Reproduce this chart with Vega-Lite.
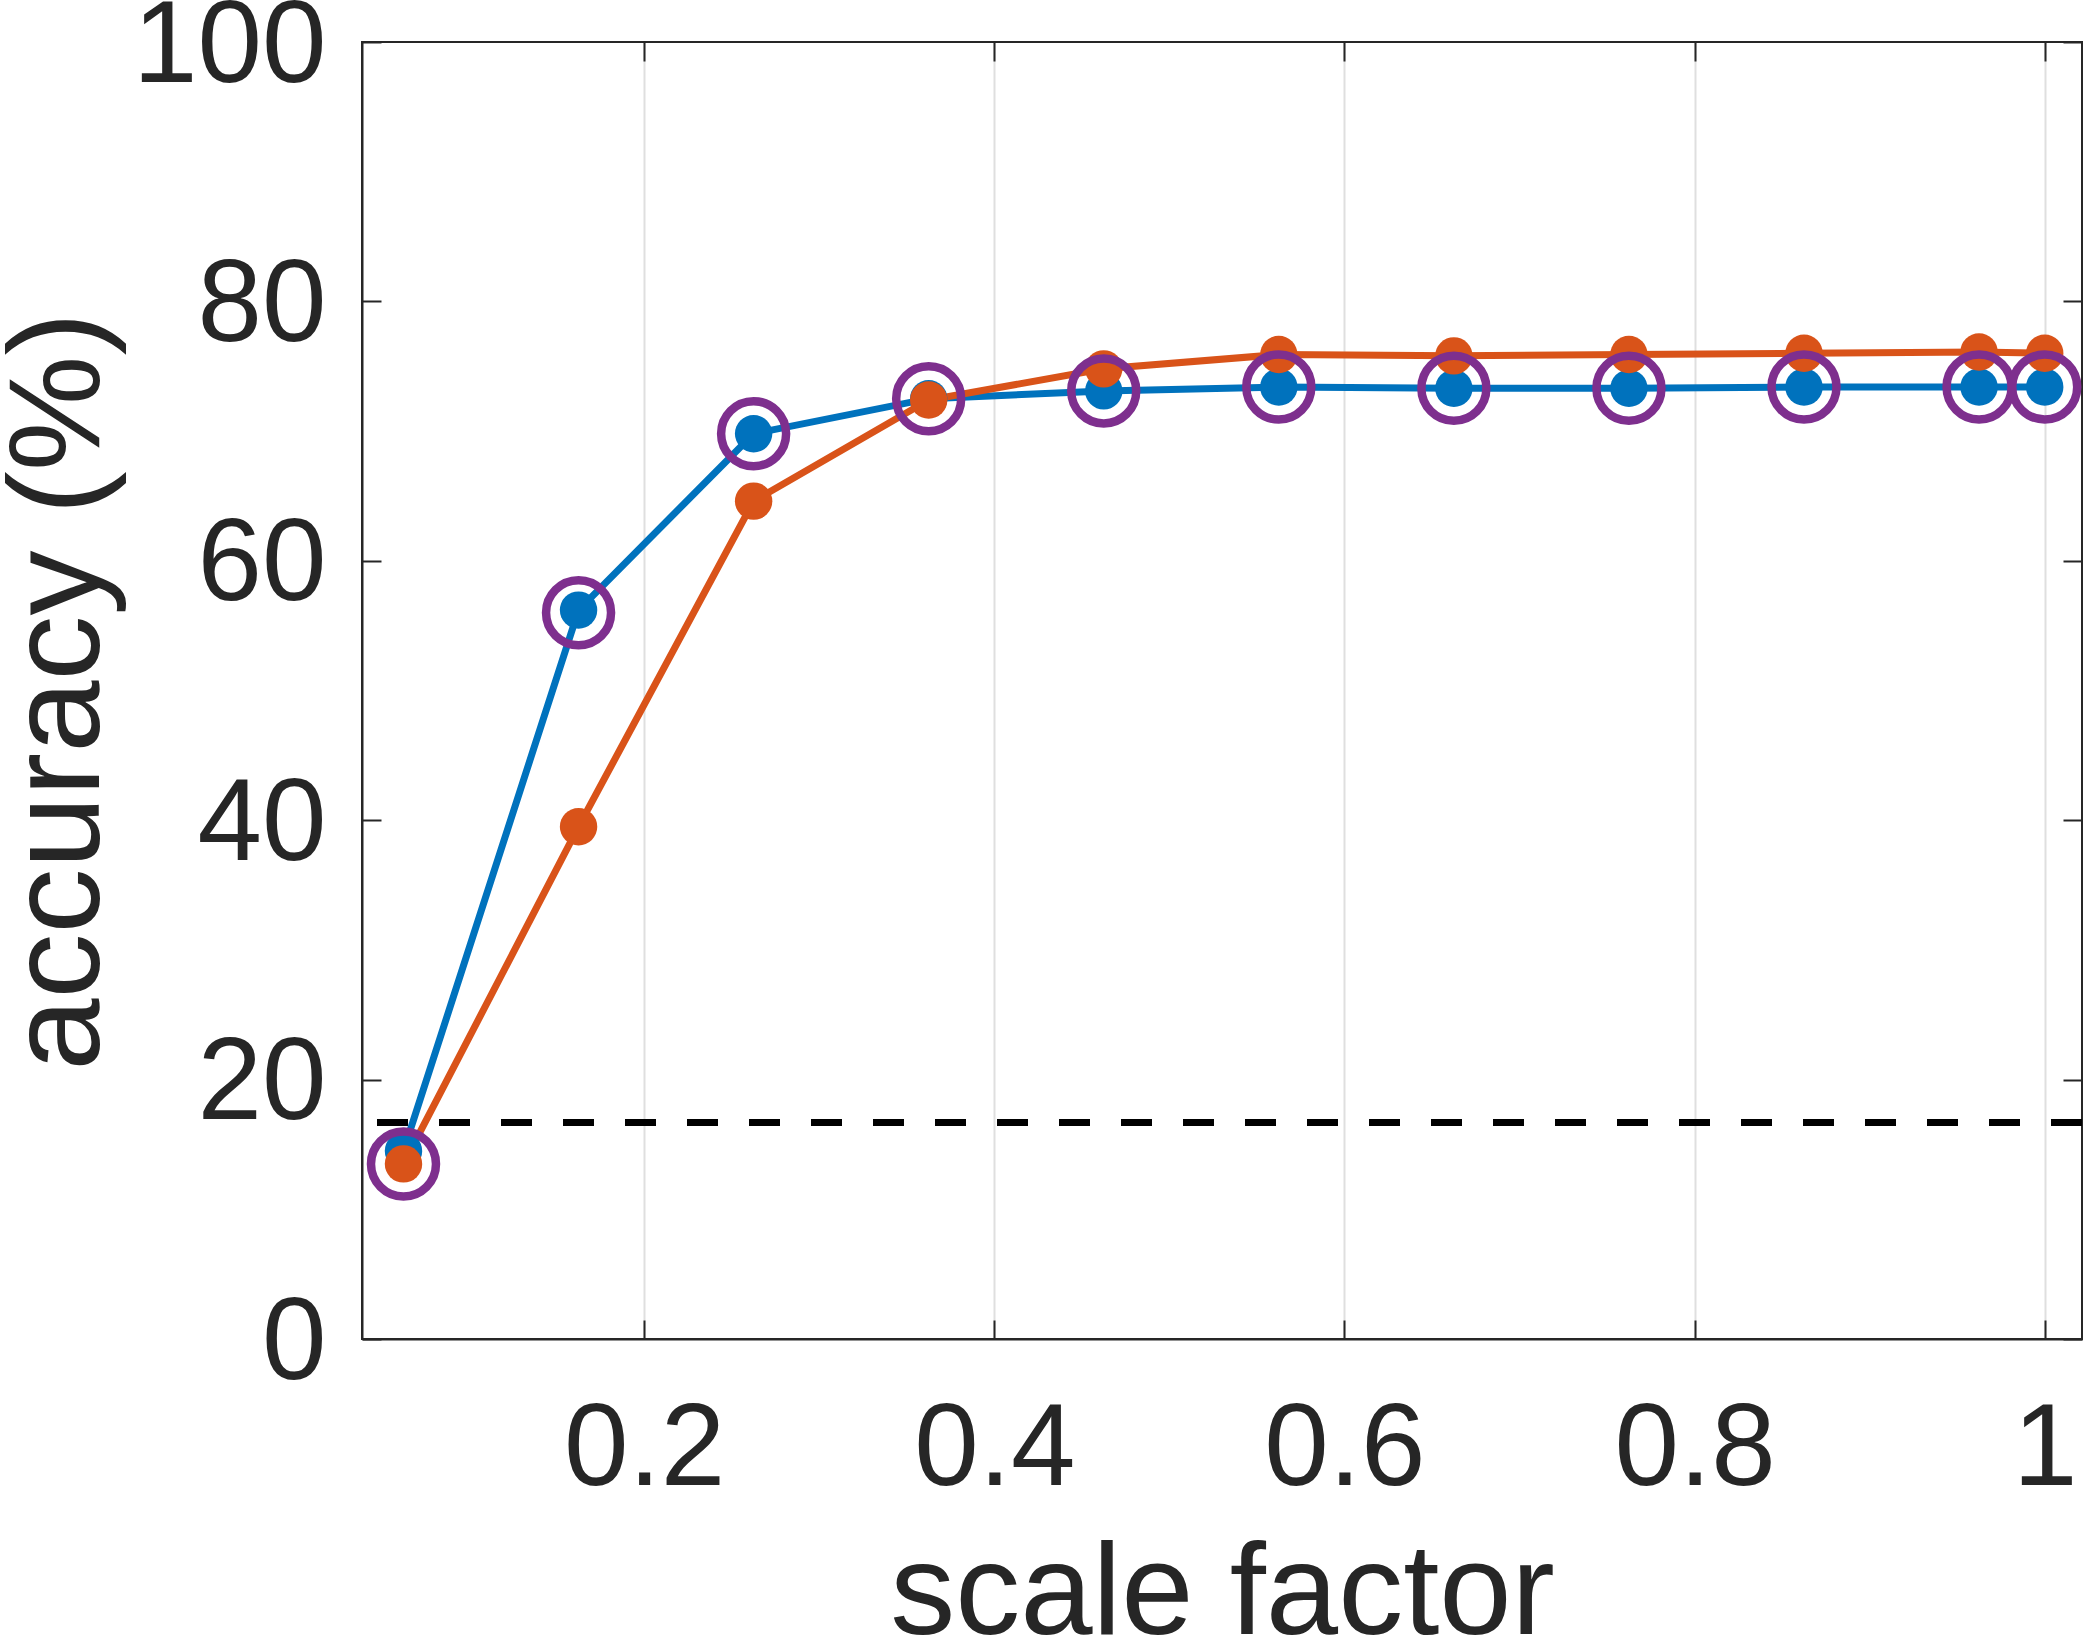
{
  "$schema": "https://vega.github.io/schema/vega-lite/v6.json",
  "width": 1720,
  "height": 1297,
  "autosize": {"type": "none"},
  "padding": {"left": 362, "top": 42, "right": 5, "bottom": 298},
  "background": "white",
  "config": {
    "view": {"stroke": "#262626", "strokeWidth": 2},
    "font": "Liberation Sans",
    "axis": {
      "labelFont": "Liberation Sans",
      "titleFont": "Liberation Sans",
      "labelColor": "#262626",
      "titleColor": "#262626",
      "titleFontWeight": "normal",
      "labelLimit": 0,
      "titleLimit": 0,
      "domainColor": "#262626",
      "domainWidth": 2,
      "tickColor": "#262626",
      "tickWidth": 2,
      "tickSize": -19,
      "gridColor": "#262626",
      "gridOpacity": 0.15,
      "gridWidth": 2
    }
  },
  "data": {
    "values": [
      {"x": 0.0625, "series": "blue", "acc": 14.5},
      {"x": 0.1625, "series": "blue", "acc": 56.2},
      {"x": 0.2625, "series": "blue", "acc": 69.8},
      {"x": 0.3625, "series": "blue", "acc": 72.5},
      {"x": 0.4625, "series": "blue", "acc": 73.1},
      {"x": 0.5625, "series": "blue", "acc": 73.4},
      {"x": 0.6625, "series": "blue", "acc": 73.3},
      {"x": 0.7625, "series": "blue", "acc": 73.3},
      {"x": 0.8625, "series": "blue", "acc": 73.4},
      {"x": 0.9625, "series": "blue", "acc": 73.4},
      {"x": 1.0, "series": "blue", "acc": 73.4},
      {"x": 0.0625, "series": "orange", "acc": 13.5},
      {"x": 0.1625, "series": "orange", "acc": 39.5},
      {"x": 0.2625, "series": "orange", "acc": 64.6},
      {"x": 0.3625, "series": "orange", "acc": 72.4},
      {"x": 0.4625, "series": "orange", "acc": 74.8},
      {"x": 0.5625, "series": "orange", "acc": 75.9},
      {"x": 0.6625, "series": "orange", "acc": 75.8},
      {"x": 0.7625, "series": "orange", "acc": 75.9},
      {"x": 0.8625, "series": "orange", "acc": 76.0},
      {"x": 0.9625, "series": "orange", "acc": 76.1},
      {"x": 1.0, "series": "orange", "acc": 76.0},
      {"x": 0.0625, "series": "ring", "acc": 13.5},
      {"x": 0.1625, "series": "ring", "acc": 56.0},
      {"x": 0.2625, "series": "ring", "acc": 69.8},
      {"x": 0.3625, "series": "ring", "acc": 72.5},
      {"x": 0.4625, "series": "ring", "acc": 73.1},
      {"x": 0.5625, "series": "ring", "acc": 73.4},
      {"x": 0.6625, "series": "ring", "acc": 73.3},
      {"x": 0.7625, "series": "ring", "acc": 73.3},
      {"x": 0.8625, "series": "ring", "acc": 73.4},
      {"x": 0.9625, "series": "ring", "acc": 73.4},
      {"x": 1.0, "series": "ring", "acc": 73.4}
    ]
  },
  "layer": [
    {
      "layer": [
        {
          "mark": {"type": "rule", "color": "black", "strokeWidth": 6, "strokeDash": [31, 31]},
          "encoding": {"y": {"datum": 16.67, "type": "quantitative"}}
        },
        {
          "transform": [{"filter": "datum.series !== 'ring'"}],
          "mark": {"type": "line", "strokeWidth": 7},
          "encoding": {
            "x": {
              "field": "x",
              "type": "quantitative",
              "scale": {"domain": [0.0388, 1.0213], "nice": false, "zero": false},
              "axis": {
                "values": [0.2, 0.4, 0.6, 0.8, 1],
                "format": ".1~f",
                "labelFontSize": 116,
                "labelBaseline": "alphabetic",
                "labelPadding": 164,
                "title": "scale factor",
                "titleFontSize": 130,
                "titleBaseline": "alphabetic",
                "titleX": 860,
                "titleY": 294
              }
            },
            "y": {
              "field": "acc",
              "type": "quantitative",
              "scale": {"domain": [0, 100], "nice": false},
              "axis": {
                "values": [0, 20, 40, 60, 80, 100],
                "format": "d",
                "labelFontSize": 116,
                "labelPadding": 55,
                "labelOffset": 4,
                "title": "accuracy (%)",
                "titleFontSize": 130,
                "titleBaseline": "alphabetic",
                "titleAngle": -90,
                "titleX": -264,
                "titleY": 649
              }
            },
            "color": {
              "field": "series",
              "type": "nominal",
              "scale": {"domain": ["blue", "orange", "ring"], "range": ["#0072BD", "#D95319", "#7E2F8E"]},
              "legend": null
            },
            "order": {"field": "x", "type": "quantitative"}
          }
        },
        {
          "transform": [{"filter": "datum.series !== 'ring'"}],
          "mark": {"type": "point", "shape": "circle", "filled": true, "opacity": 1, "size": 1400},
          "encoding": {
            "x": {"field": "x", "type": "quantitative"},
            "y": {"field": "acc", "type": "quantitative"},
            "color": {"field": "series", "type": "nominal", "legend": null}
          }
        },
        {
          "transform": [{"filter": "datum.series === 'ring'"}],
          "mark": {"type": "point", "shape": "circle", "filled": false, "opacity": 1, "strokeWidth": 8.5, "size": 4225, "color": "#7E2F8E"},
          "encoding": {
            "x": {"field": "x", "type": "quantitative"},
            "y": {"field": "acc", "type": "quantitative"}
          }
        }
      ]
    },
    {
      "transform": [{"filter": "datum.series === 'ring'"}],
      "mark": {"type": "point", "opacity": 0},
      "encoding": {
        "x": {
          "field": "x",
          "type": "quantitative",
          "axis": {"orient": "top", "values": [0.2, 0.4, 0.6, 0.8, 1], "labels": false, "grid": false, "domain": false, "title": null}
        },
        "y": {
          "field": "acc",
          "type": "quantitative",
          "axis": {"orient": "right", "values": [0, 20, 40, 60, 80, 100], "labels": false, "grid": false, "domain": false, "title": null}
        }
      }
    }
  ],
  "resolve": {"axis": {"x": "independent", "y": "independent"}}
}
